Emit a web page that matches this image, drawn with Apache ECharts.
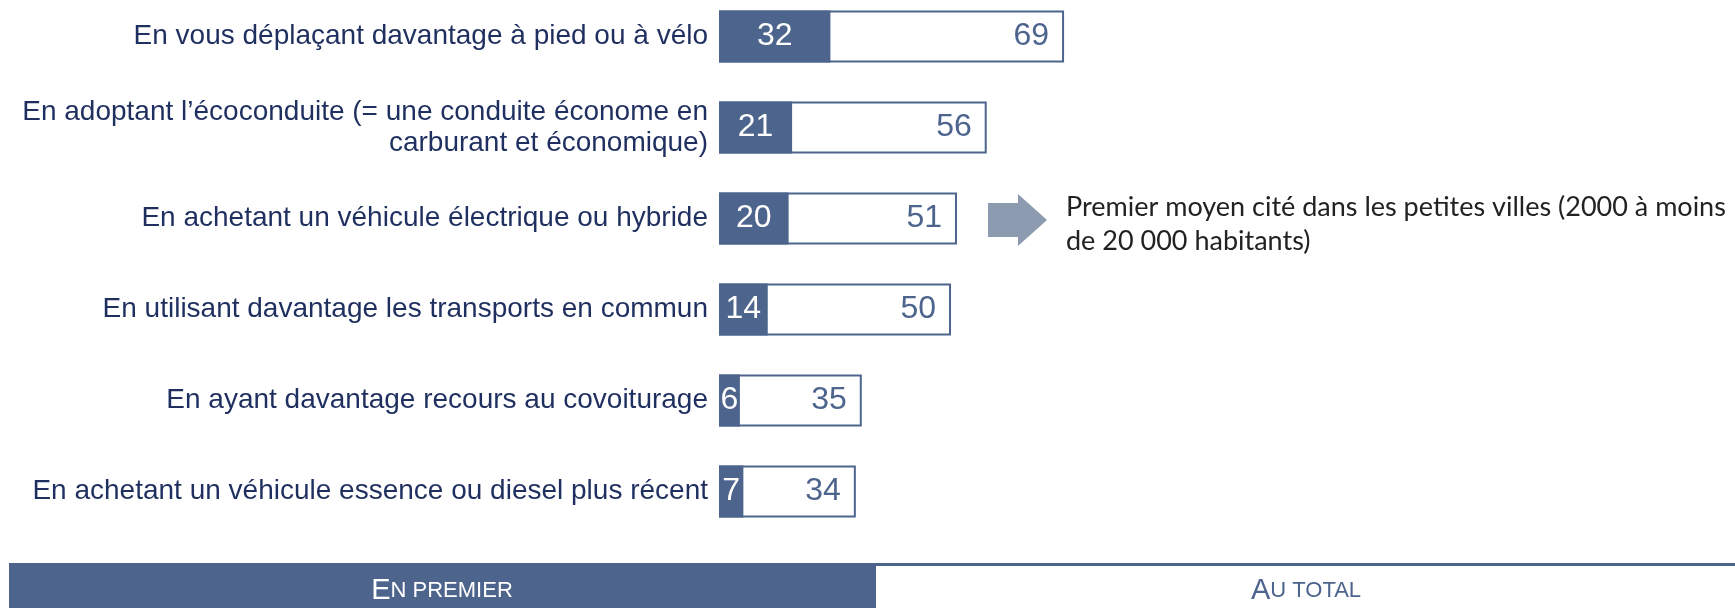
<html>
	<head>
		<meta charset="utf-8">
		<title>Moyens cités</title>
		<script src="https://cdn.jsdelivr.net/npm/echarts@6/dist/echarts.min.js"></script>
	</head>
	<body style="margin: 0px;">
		<div id="main" style="width: 1735px;height:608px;"></div>
		<script type="text/javascript">
			// données
			var categories = [
				'En vous déplaçant davantage à pied ou à vélo',
				'En adoptant l\u2019écoconduite (= une conduite économe en\ncarburant et économique)',
				'En achetant un véhicule électrique ou hybride',
				'En utilisant davantage les transports en commun',
				'En ayant davantage recours au covoiturage',
				'En achetant un véhicule essence ou diesel plus récent'
			];
			var premier = [32, 21, 20, 14, 6, 7];
			var total = [69, 56, 51, 50, 35, 34];
			var legendLabels = ['En premier', 'Au total'];
			var noteLines = ['Premier moyen cité dans les petites villes (2000 à moins', 'de 20 000 habitants)'];

			var dark = '#4d648d';
			var navy = '#1f2f5f';

			// petites capitales : première lettre grande, reste en petit
			function smallCaps(s) {
				return '{b|' + s.charAt(0).toUpperCase() + '}{s|' + s.slice(1).toUpperCase() + '}';
			}

			var myChart = echarts.init(document.getElementById('main'));
			var option = {
				backgroundColor: '#fff',
				animation: false,
				grid: {
					left: 719,
					top: -9,
					width: 470,
					height: 546,
					containLabel: false,
					outerBoundsMode: 'none'
				},
				xAxis: [{
					type: 'value',
					min: 0,
					max: 135,
					show: false
				}, {
					// l'échelle du total n'est pas proportionnelle dans l'original
					type: 'value',
					min: 11,
					max: 90,
					startValue: 11,
					show: false
				}],
				yAxis: {
					type: 'category',
					inverse: true,
					data: categories,
					axisLine: { show: false },
					axisTick: { show: false },
					axisLabel: {
						interval: 0,
						margin: 11,
						fontSize: 28,
						lineHeight: 31,
						color: navy,
						fontFamily: 'Liberation Sans'
					}
				},
				series: [{
					name: 'Au total',
					type: 'bar',
					xAxisIndex: 1,
					barWidth: 52,
					barGap: '-100%',
					clip: true,
					z: 2,
					itemStyle: {
						color: '#fff',
						borderColor: dark,
						borderWidth: 2
					},
					label: {
						show: true,
						position: 'insideRight',
						distance: 15,
						fontSize: 32,
						color: dark,
						fontFamily: 'Liberation Sans'
					},
					data: total
				}, {
					name: 'En premier',
					type: 'bar',
					xAxisIndex: 0,
					barWidth: 52,
					barGap: '-100%',
					z: 3,
					itemStyle: {
						color: dark
					},
					label: {
						show: true,
						position: 'inside',
						fontSize: 32,
						color: '#fff',
						fontFamily: 'Liberation Sans'
					},
					data: premier
				}],
				graphic: [{
					type: 'polygon',
					shape: {
						points: [[988, 203], [1018, 203], [1018, 194], [1047, 220], [1018, 246], [1018, 237], [988, 237]]
					},
					style: { fill: '#8d9bb0' }
				}, {
					type: 'text',
					left: 1066,
					top: 190,
					style: {
						text: noteLines.join('\n'),
						font: '27px Lato',
						lineHeight: 34,
						fill: '#222'
					}
				}, {
					type: 'rect',
					shape: { x: 9, y: 563, width: 867, height: 45 },
					style: { fill: dark }
				}, {
					type: 'line',
					shape: { x1: 876, y1: 564.5, x2: 1735, y2: 564.5 },
					style: { stroke: dark, lineWidth: 3 }
				}, {
					type: 'text',
					x: 442,
					y: 591,
					style: {
						text: smallCaps(legendLabels[0]),
						align: 'center',
						verticalAlign: 'middle',
						fill: '#fff',
						rich: {
							b: { fontSize: 29, fontFamily: 'Liberation Sans', fill: '#fff' },
							s: { fontSize: 22, fontFamily: 'Liberation Sans', fill: '#fff' }
						}
					}
				}, {
					type: 'text',
					x: 1306,
					y: 591,
					style: {
						text: smallCaps(legendLabels[1]),
						align: 'center',
						verticalAlign: 'middle',
						rich: {
							b: { fontSize: 29, fontFamily: 'Liberation Sans', fill: dark },
							s: { fontSize: 22, fontFamily: 'Liberation Sans', fill: dark }
						}
					}
				}]
			};
			myChart.setOption(option);
		</script>
	</body>
</html>
